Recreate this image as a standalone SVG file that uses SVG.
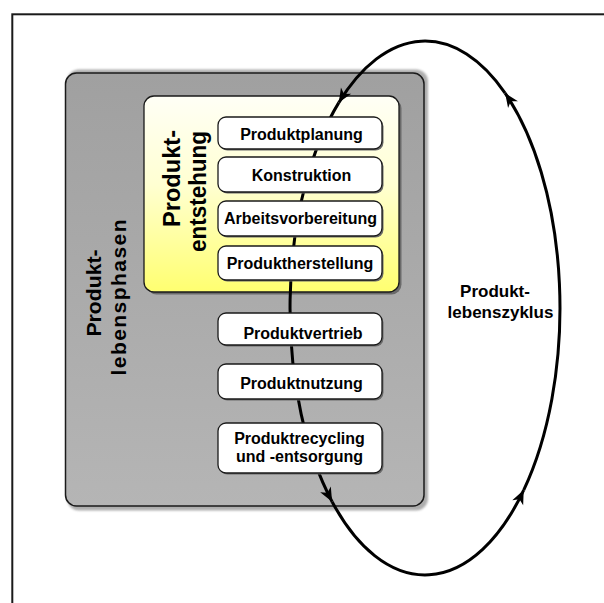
<svg xmlns="http://www.w3.org/2000/svg" width="604" height="603" viewBox="0 0 604 603">
  <defs>
    <linearGradient id="grayFill" x1="0" y1="0" x2="0" y2="1">
      <stop offset="0" stop-color="#a0a0a0"/>
      <stop offset="1" stop-color="#b5b5b5"/>
    </linearGradient>
    <linearGradient id="yellowFill" x1="0" y1="0" x2="0" y2="1">
      <stop offset="0" stop-color="#fffff6"/>
      <stop offset="0.45" stop-color="#ffffd2"/>
      <stop offset="1" stop-color="#ffff70"/>
    </linearGradient>
    <filter id="soft" x="-5%" y="-5%" width="110%" height="110%">
      <feGaussianBlur stdDeviation="1.2"/>
    </filter>
    <marker id="barb" markerUnits="userSpaceOnUse" markerWidth="16" markerHeight="14" viewBox="-15 -7 16 14" refX="0" refY="0" orient="auto">
      <path d="M0,0 L-14,-6 L-10,0 L-14,6 Z" fill="#000"/>
    </marker>
  </defs>
  <style>
    .frame{fill:none;stroke:#1a1a1a;stroke-width:2}
    .shadow{fill:#6a6a6a}
    .phase{fill:#fff;stroke:#1a1a1a;stroke-width:1.3}
    .label{font-family:"Liberation Sans",Arial,sans-serif;font-weight:bold;font-size:16px;fill:#000;text-anchor:middle}
    .title{font-size:23px}
    .title-l{font-size:21px}
    .side{font-size:17px}
    .cycle{fill:none;stroke:#000;stroke-width:3;marker-end:url(#barb)}
  </style>

  <!-- outer frame, runs past the canvas on the right and bottom -->
  <rect class="frame" x="12.3" y="14.3" width="700" height="700"/>

  <!-- product life phases container -->
  <g id="lebensphasen">
    <rect x="67" y="69.5" width="361" height="441" rx="12" fill="#777" opacity="0.6" filter="url(#soft)"/>
    <rect x="65.5" y="73" width="358.5" height="433" rx="11" fill="url(#grayFill)" stroke="#1a1a1a" stroke-width="1.5"/>
    <g class="label title-l" transform="translate(101,293) rotate(-90)">
      <text x="0" y="0" textLength="87" lengthAdjust="spacingAndGlyphs">Produkt-</text>
      <text x="-4.5" y="25" textLength="156" lengthAdjust="spacing">lebensphasen</text>
    </g>
  </g>

  <!-- product creation container -->
  <g id="entstehung">
    <rect x="146.5" y="98.5" width="255" height="196" rx="10" class="shadow"/>
    <rect x="144" y="96" width="255" height="196" rx="10" fill="url(#yellowFill)" stroke="#1a1a1a" stroke-width="1.3"/>
    <g class="label title" transform="translate(179.5,178.5) rotate(-90)">
      <text x="0" y="0" textLength="97" lengthAdjust="spacingAndGlyphs">Produkt-</text>
      <text x="-13" y="26" textLength="121" lengthAdjust="spacingAndGlyphs">entstehung</text>
    </g>
  </g>

  <!-- life cycle loop, split into four arcs so each carries an arrowhead -->
  <g id="connectors">
    <path class="cycle" d="M505.1,93.1 A135,267 0 0 0 338.8,102.6"/>
    <path class="cycle" d="M338.8,102.6 A135,267 0 0 0 332.1,501.7"/>
    <path class="cycle" d="M332.1,501.7 A135,267 0 0 0 523.7,490.1"/>
    <path class="cycle" d="M523.7,490.1 A135,267 0 0 0 505.1,93.1"/>
  </g>

  <g id="produktplanung">
    <rect class="shadow" x="219.5" y="118.5" width="164" height="32" rx="8"/>
    <rect class="phase" x="218" y="117" width="164" height="32" rx="8"/>
    <text class="label" x="301.5" y="139.5">Produktplanung</text>
  </g>
  <g id="konstruktion">
    <rect class="shadow" x="219.5" y="158.5" width="164" height="35" rx="8"/>
    <rect class="phase" x="218" y="157" width="164" height="35" rx="8"/>
    <text class="label" x="301.5" y="180.5">Konstruktion</text>
  </g>
  <g id="arbeitsvorbereitung">
    <rect class="shadow" x="219.5" y="202.5" width="164" height="35" rx="8"/>
    <rect class="phase" x="218" y="201" width="164" height="35" rx="8"/>
    <text class="label" x="300.5" y="223.5">Arbeitsvorbereitung</text>
  </g>
  <g id="produktherstellung">
    <rect class="shadow" x="219.5" y="247.5" width="164" height="34" rx="8"/>
    <rect class="phase" x="218" y="246" width="164" height="34" rx="8"/>
    <text class="label" x="300" y="269">Produktherstellung</text>
  </g>
  <g id="produktvertrieb">
    <rect class="shadow" x="219.5" y="314.5" width="164" height="32" rx="8"/>
    <rect class="phase" x="218" y="313" width="164" height="32" rx="8"/>
    <text class="label" x="303" y="338.5">Produktvertrieb</text>
  </g>
  <g id="produktnutzung">
    <rect class="shadow" x="219.5" y="365.5" width="164" height="35" rx="8"/>
    <rect class="phase" x="218" y="364" width="164" height="35" rx="8"/>
    <text class="label" x="301.5" y="388.5">Produktnutzung</text>
  </g>
  <g id="produktrecycling">
    <rect class="shadow" x="219.5" y="424.5" width="164" height="50" rx="8"/>
    <rect class="phase" x="218" y="423" width="164" height="50" rx="8"/>
    <text class="label" x="299.5" y="443.5">Produktrecycling</text>
    <text class="label" x="299.5" y="462">und -entsorgung</text>
  </g>

  <g id="lebenszyklus">
    <text class="label side" x="495" y="297">Produkt-</text>
    <text class="label side" x="500.5" y="318">lebenszyklus</text>
  </g>
</svg>
